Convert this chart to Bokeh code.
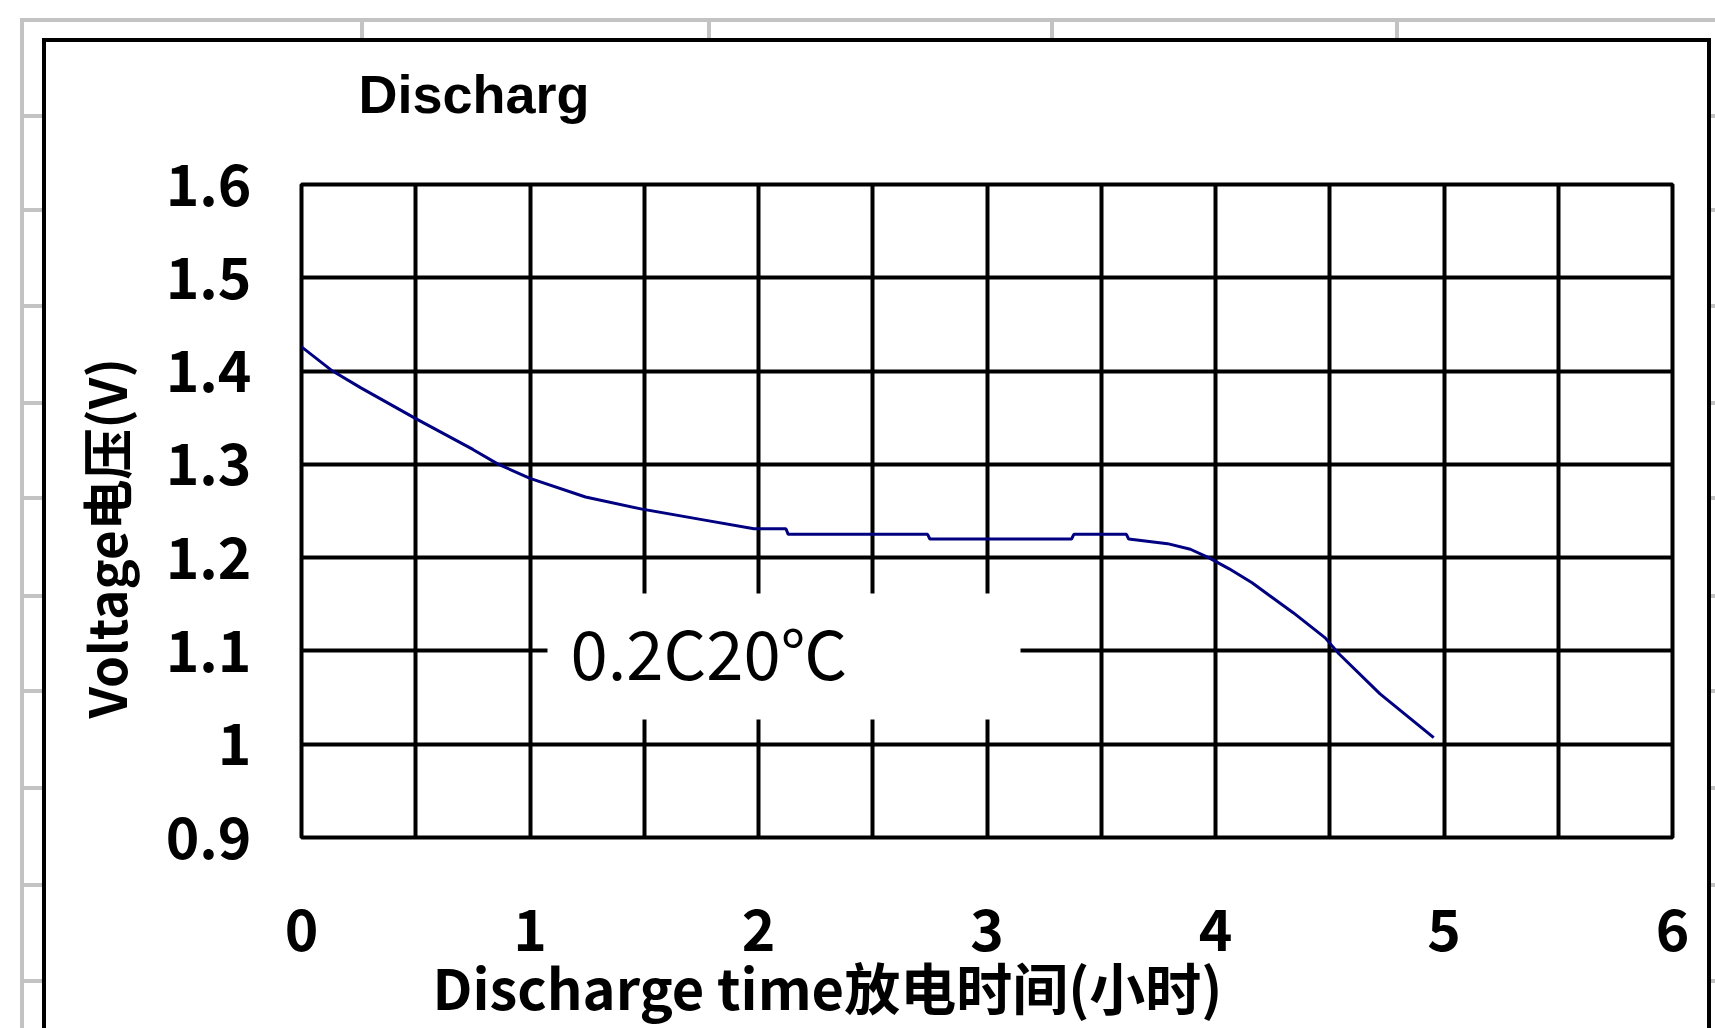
from bokeh.plotting import figure
from bokeh.models import Range1d, FixedTicker, Label, BoxAnnotation, Title
from bokeh.embed import file_html
from bokeh.resources import INLINE

# ---------------- data ----------------
time_h = [0.0, 0.136, 0.26, 0.5, 0.75, 0.862, 1.0, 1.243, 1.49, 1.746, 1.98,
          2.12, 2.13, 2.74, 2.75, 3.37, 3.38, 3.61, 3.62, 3.79, 3.89, 3.97,
          4.06, 4.16, 4.34, 4.48, 4.54, 4.72, 4.955]
voltage = [1.426, 1.400, 1.382, 1.349, 1.316, 1.300, 1.285, 1.265, 1.252, 1.241, 1.231,
           1.231, 1.225, 1.225, 1.220, 1.220, 1.225, 1.225, 1.220, 1.215, 1.209, 1.200,
           1.188, 1.173, 1.141, 1.114, 1.097, 1.054, 1.007]

x_ticks = [0, 1, 2, 3, 4, 5, 6]
x_tick_labels = ["0", "1", "2", "3", "4", "5", "6"]
x_grid = [0, 0.5, 1, 1.5, 2, 2.5, 3, 3.5, 4, 4.5, 5, 5.5, 6]
y_ticks = [0.9, 1.0, 1.1, 1.2, 1.3, 1.4, 1.5, 1.6]
y_tick_labels = ["0.9", "1", "1.1", "1.2", "1.3", "1.4", "1.5", "1.6"]

title_text = "Discharg"
x_title = "Discharge time放电时间(小时)"
y_title = "Voltage电压(V)"
note_text = "0.2C20℃"

# ---------------- layout ----------------
W, H = 1715, 1028
FL, FT, FW, FH = 301, 184, 1371, 653
X0, X1, Y0, Y1 = 0.0, 6.0, 0.9, 1.6
FONT = "Noto Sans CJK SC"


def xd(px):  # canvas pixel -> data x
    return X0 + (px - FL) / FW * (X1 - X0)


def yd(py):  # canvas pixel -> data y
    return Y1 - (py - FT) / FH * (Y1 - Y0)


# spreadsheet-like background lines and black chart border drawn with CSS
GRAY = "#c3c3c3"
layers = []  # (color, left, top, width, height)
layers += [("#000", 42, 38, 4, 990), ("#000", 42, 38, 1669, 4), ("#000", 1707, 38, 4, 990)]
layers += [(GRAY, 20, 18, 1695, 4), (GRAY, 20, 18, 4, 1010)]
for cx in [362, 709, 1052, 1397]:
    layers.append((GRAY, cx - 2, 22, 4, 16))
for ry in [116, 210, 306, 403, 498, 596, 691, 788, 885, 981]:
    layers.append((GRAY, 24, ry - 2, 18, 4))
    layers.append((GRAY, 1711, ry - 2, 4, 4))

styles = {
    "background-color": "white",
    "background-image": ", ".join(f"linear-gradient({c},{c})" for c, *_ in layers),
    "background-position": ", ".join(f"{l}px {t}px" for _, l, t, w, h in layers),
    "background-size": ", ".join(f"{w}px {h}px" for _, l, t, w, h in layers),
    "background-repeat": "no-repeat",
}

p = figure(width=W, height=H, output_backend="svg", toolbar_location=None,
           x_range=Range1d(X0, X1), y_range=Range1d(Y0, Y1),
           min_border_left=FL, min_border_right=W - FL - FW,
           min_border_top=FT, min_border_bottom=H - FT - FH,
           title=title_text, styles=styles)

p.background_fill_color = "white"
p.border_fill_color = None
p.outline_line_color = "black"
p.outline_line_width = 4

p.title.align = "left"
p.title.offset = 57
p.title.standoff = 121
p.title.text_font = "Liberation Sans"
p.title.text_font_size = "54px"
p.title.text_font_style = "bold"
p.title.text_color = "black"

p.xgrid.ticker = FixedTicker(ticks=x_grid)
p.ygrid.ticker = FixedTicker(ticks=y_ticks)
for g in (p.xgrid, p.ygrid):
    g.grid_line_color = "black"
    g.grid_line_width = 4
    g.grid_line_alpha = 1.0

p.xaxis.ticker = FixedTicker(ticks=x_ticks)
p.yaxis.ticker = FixedTicker(ticks=y_ticks)
p.xaxis.major_label_overrides = {t: l for t, l in zip(x_ticks, x_tick_labels)}
p.yaxis.major_label_overrides = {t: l for t, l in zip(y_ticks, y_tick_labels)}
for ax in (p.xaxis, p.yaxis):
    ax.axis_line_color = None
    ax.major_tick_line_color = None
    ax.minor_tick_line_color = None
    ax.major_tick_in = 0
    ax.major_tick_out = 0
    ax.major_label_text_font = FONT
    ax.major_label_text_font_size = "57px"
    ax.major_label_text_font_style = "bold"
    ax.major_label_text_color = "black"
p.xaxis.major_label_standoff = 71
p.yaxis.major_label_standoff = 50

# axis titles, placed as side titles so that they can sit off-centre like the original
p.add_layout(Title(text=x_title, align="left", offset=131, standoff=-18, vertical_align="top",
                   text_font=FONT, text_font_size="56px", text_font_style="bold",
                   text_color="black"), "below")
p.add_layout(Title(text=y_title, align="left", offset=119, standoff=42, vertical_align="bottom",
                   text_font=FONT, text_font_size="51px", text_font_style="bold",
                   text_color="black"), "left")

# discharge curve
p.line(time_h, voltage, line_color="#000080", line_width=3)

# white box behind the note
p.add_layout(BoxAnnotation(left=xd(547), right=xd(1020), top=yd(593), bottom=yd(719),
                           fill_color="white", fill_alpha=1.0, line_color=None))
p.add_layout(Label(x=xd(570), y=1.1, text=note_text, text_font=FONT,
                   text_font_size="67px", text_color="black",
                   text_align="left", text_baseline="middle"))

open("out.html", "w").write(file_html(p, INLINE))
